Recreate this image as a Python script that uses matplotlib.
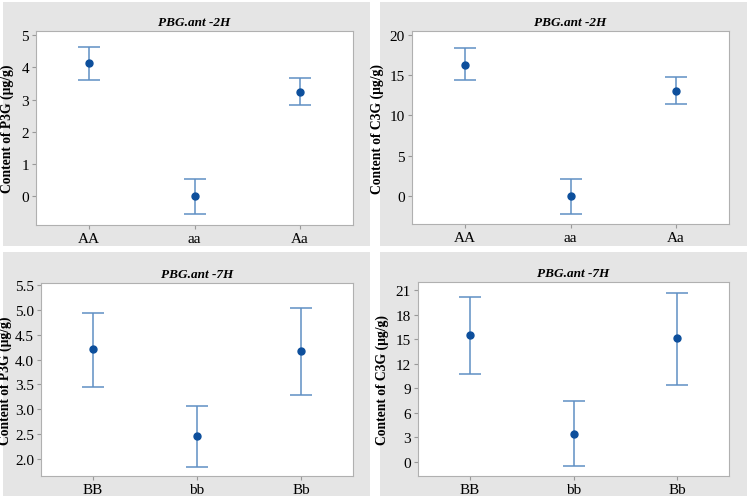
import numpy as np
import matplotlib
matplotlib.use("Agg")
import matplotlib.pyplot as plt
from matplotlib.patches import Rectangle

plt.rcParams['font.family'] = ['Liberation Serif', 'DejaVu Serif']

W, H = 750, 502

# data: mean, upper and lower end of the bars
genes_2h = ["AA", "aa", "Aa"]
genes_7h = ["BB", "bb", "Bb"]

p3g_2h_mean = [4.13, 0.0, 3.24]
p3g_2h_hi = [4.62, 0.55, 3.66]
p3g_2h_lo = [3.62, -0.56, 2.82]

c3g_2h_mean = [16.3, 0.0, 13.0]
c3g_2h_hi = [18.3, 2.15, 14.7]
c3g_2h_lo = [14.4, -2.25, 11.4]

p3g_7h_mean = [4.21, 2.45, 4.18]
p3g_7h_hi = [4.95, 3.07, 5.05]
p3g_7h_lo = [3.45, 1.83, 3.28]

c3g_7h_mean = [15.5, 3.45, 15.1]
c3g_7h_hi = [20.2, 7.4, 20.7]
c3g_7h_lo = [10.7, -0.45, 9.35]

fig = plt.figure(figsize=(W / 100, H / 100), dpi=100)

# gray panel backgrounds (x0, y0 top, x1, y1 bottom) in pixels
panels = [(3, 3, 370, 247), (380, 3, 747, 247),
          (3, 253, 370, 497), (380, 253, 747, 497)]
for x0, y0, x1, y1 in panels:
    fig.patches.append(Rectangle((x0 / W, 1 - y1 / H), (x1 - x0) / W, (y1 - y0) / H,
                                 transform=fig.transFigure, facecolor="#e5e5e5",
                                 edgecolor="none", zorder=-5))

# plot areas in pixels (left, top, right, bottom)
boxes = [(36, 32, 353, 226), (412, 32, 729, 225),
         (41, 284, 353, 477), (418, 283, 729, 477)]

specs = [
    ("PBG.ant -2H", "Content of P3G (μg/g)", genes_2h, p3g_2h_mean, p3g_2h_hi, p3g_2h_lo,
     (-0.89, 5.13), [0, 1, 2, 3, 4, 5], "%g", 5),
    ("PBG.ant -2H", "Content of C3G (μg/g)", genes_2h, c3g_2h_mean, c3g_2h_hi, c3g_2h_lo,
     (-3.43, 20.45), [0, 5, 10, 15, 20], "%g", 4),
    ("PBG.ant -7H", "Content of P3G (μg/g)", genes_7h, p3g_7h_mean, p3g_7h_hi, p3g_7h_lo,
     (1.65, 5.55), [2.0, 2.5, 3.0, 3.5, 4.0, 4.5, 5.0, 5.5], "%.1f", 2),
    ("PBG.ant -7H", "Content of C3G (μg/g)", genes_7h, c3g_7h_mean, c3g_7h_hi, c3g_7h_lo,
     (-1.72, 22.0), [0, 3, 6, 9, 12, 15, 18, 21], "%g", 5),
]

for (l, t, r, b), (title, ylab, cats, mean, hi, lo, ylim, yt, fmt, lp) in zip(boxes, specs):
    ax = fig.add_axes([l / W, 1 - b / H, (r - l) / W, (b - t) / H])
    ax.set_facecolor("white")
    x = np.arange(1, len(cats) + 1)
    mean = np.array(mean)
    yerr = [mean - np.array(lo), np.array(hi) - mean]
    ax.errorbar(x, mean, yerr=yerr, fmt="none", ecolor="#5f8fc4", elinewidth=1.1,
                capsize=8, capthick=1.1)
    ax.plot(x, mean, "o", color="#0d4f9c", markersize=5)
    ax.set_xlim(0.5, 3.5)
    ax.set_ylim(*ylim)
    ax.set_xticks(x)
    ax.set_xticklabels(cats)
    ax.set_yticks(yt)
    ax.yaxis.set_major_formatter(matplotlib.ticker.FormatStrFormatter(fmt))
    ax.tick_params(labelsize=11, length=3, color="#999999", pad=2)
    for s in ax.spines.values():
        s.set_color("#b0b0b0")
    ax.set_title(title, fontsize=9.5, fontweight="bold", style="italic", pad=4)
    ax.set_ylabel(ylab, fontsize=9.8, fontweight="bold", labelpad=lp)

fig.savefig("out.png", dpi=100, facecolor="white")
